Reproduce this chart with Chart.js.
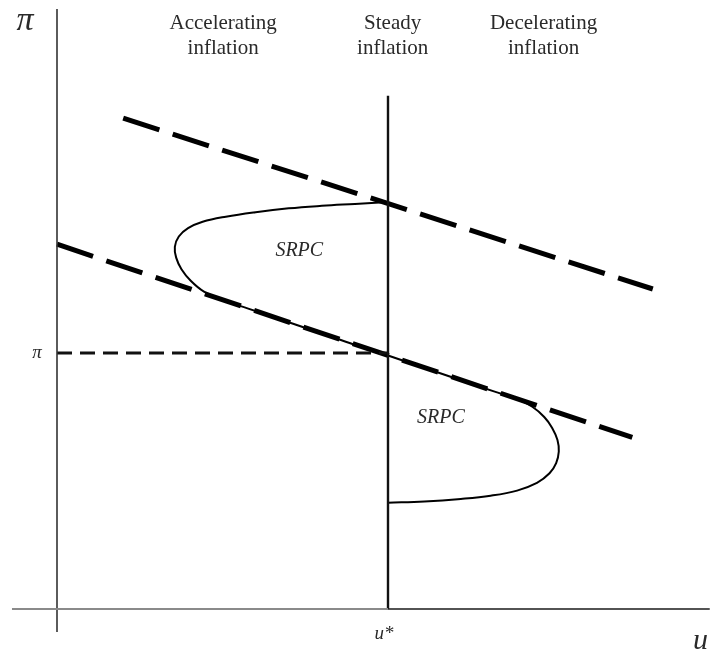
<!DOCTYPE html>
<html>
<head>
<meta charset="utf-8">
<script src="https://cdn.jsdelivr.net/npm/chart.js@4/dist/chart.umd.min.js"></script>
<style>
html,body{margin:0;padding:0;background:#fff;}
#wrap{width:710px;height:653px;}
</style>
</head>
<body>
<div id="wrap"><canvas id="c" width="710" height="653"></canvas></div>
<script>
// ---- data (u = unemployment, pi = inflation) ----
const uStar = 5;
const piStar = 4;
const upperExpU = [1.0, 9.0];
const upperExpPi = [7.67, 5.0];
const lowerExpU = [0.0, 8.69];
const lowerExpPi = [5.70, 2.68];
const srpcUpperU  = [5.0, 4.5, 4.0, 3.5, 3.0, 2.55, 2.2, 1.98, 1.84, 1.78, 1.80, 1.88, 2.02, 2.22, 2.5, 2.9, 3.3, 3.7, 4.1, 4.55, 5.0];
const srpcUpperPi = [6.36, 6.33, 6.30, 6.26, 6.20, 6.13, 6.05, 5.95, 5.82, 5.66, 5.49, 5.31, 5.13, 4.96, 4.83, 4.69, 4.55, 4.41, 4.27, 4.11, 3.96];
const srpcLowerU  = [5.0, 5.4, 5.8, 6.2, 6.6, 6.95, 7.18, 7.36, 7.48, 7.56, 7.58, 7.54, 7.44, 7.25, 6.95, 6.55, 6.1, 5.55, 5.0];
const srpcLowerPi = [3.96, 3.82, 3.68, 3.54, 3.40, 3.28, 3.16, 3.00, 2.83, 2.64, 2.46, 2.28, 2.12, 1.97, 1.85, 1.77, 1.72, 1.68, 1.66];
const yAxisPi = [-0.36, 9.375];
const xAxisU = [-0.68, 9.86];
const uStarTopPi = 8.02;
const regionLabels = [["Accelerating", "inflation"], ["Steady", "inflation"], ["Decelerating", "inflation"]];
const regionU = [2.51, 5.07, 7.35];

const pts = (us, ps) => us.map((u, i) => ({x: u, y: ps[i]}));
const line = (data, opts) => Object.assign({
  data, showLine: true, pointRadius: 0, borderColor: '#000', borderWidth: 2,
  fill: false, tension: 0, clip: false
}, opts);

const datasets = [
  line(pts([xAxisU[0], uStar], [0, 0]), {borderColor: '#8a8a8a', borderWidth: 2}),
  line(pts([uStar, xAxisU[1]], [0, 0]), {borderColor: '#1a1a1a', borderWidth: 1.6}),
  line(pts([0, 0], yAxisPi), {borderColor: '#333', borderWidth: 1.6}),
  line(pts([uStar, uStar], [0, uStarTopPi]), {borderColor: '#111', borderWidth: 2.4}),
  line(pts([0, uStar], [piStar, piStar]), {borderColor: '#111', borderWidth: 3.2, borderDash: [15, 8]}),
  line(pts(upperExpU, upperExpPi), {borderColor: '#000', borderWidth: 5, borderDash: [38, 14]}),
  line(pts(lowerExpU, lowerExpPi), {borderColor: '#000', borderWidth: 5, borderDash: [38, 14]}),
  line(pts(srpcUpperU, srpcUpperPi), {borderColor: '#000', borderWidth: 2, tension: 0.4}),
  line(pts(srpcLowerU, srpcLowerPi), {borderColor: '#000', borderWidth: 2, tension: 0.4})
];

const textPlugin = {
  id: 'texts',
  afterDraw(chart) {
    const ctx = chart.ctx;
    const xs = chart.scales.x, ys = chart.scales.y;
    const X = v => xs.getPixelForValue(v), Y = v => ys.getPixelForValue(v);
    ctx.save();
    ctx.fillStyle = '#2a2a2a';
    ctx.textAlign = 'center';
    ctx.textBaseline = 'middle';
    ctx.font = '21px "Liberation Serif", serif';
    regionLabels.forEach((lines, i) => {
      lines.forEach((t, j) => ctx.fillText(t, X(regionU[i]), 23 + j * 25));
    });
    ctx.font = 'italic 20px "Liberation Serif", serif';
    ctx.fillText('SRPC', X(3.66), Y(5.6));
    ctx.fillText('SRPC', X(5.8), Y(2.99));
    ctx.font = 'italic 19px "Liberation Serif", serif';
    ctx.fillText('u*', X(uStar) - 4, Y(0) + 25);
    ctx.font = 'italic 30px "Liberation Serif", serif';
    ctx.fillText('u', X(9.72), Y(0) + 32);
    ctx.font = 'italic 34px "Liberation Serif", serif';
    ctx.fillText('\u03c0', 25, 21);
    ctx.font = 'italic 19px "Liberation Serif", serif';
    ctx.fillText('\u03c0', X(0) - 20, Y(piStar));
    ctx.restore();
  }
};

new Chart(document.getElementById('c'), {
  type: 'scatter',
  data: {datasets},
  options: {
    responsive: false,
    animation: false,
    layout: {padding: 0},
    plugins: {legend: {display: false}, tooltip: {enabled: false}},
    scales: {
      x: {type: 'linear', display: false, min: -57 / 66.2, max: (710 - 57) / 66.2},
      y: {type: 'linear', display: false, min: -(653 - 609) / 64, max: 609 / 64}
    }
  },
  plugins: [textPlugin]
});
</script>
</body>
</html>
